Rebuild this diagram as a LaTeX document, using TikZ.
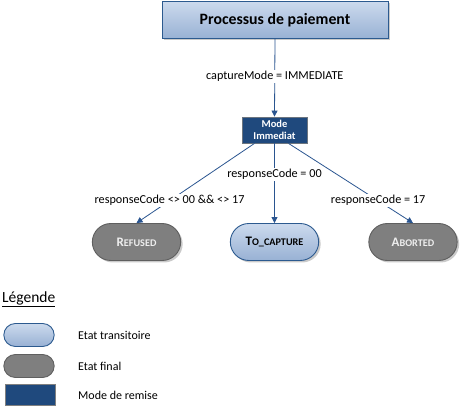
\documentclass[tikz,border=0pt]{standalone}
\usepackage{fontspec}
\setmainfont{Carlito}
\usetikzlibrary{shapes.misc,shadows,arrows.meta,calc}
\definecolor{edgeblue}{HTML}{2A5590}
\definecolor{darkfill}{HTML}{1F497D}
\definecolor{gtop}{HTML}{CCDAED}
\definecolor{gbot}{HTML}{98B1D4}
\definecolor{bborder}{HTML}{2C5A8F}
\definecolor{grayfill}{HTML}{7F7F7F}
\definecolor{grayborder}{HTML}{5F5F5F}
\definecolor{lighttext}{HTML}{EEEEEE}
\newcommand{\fsc}[2]{{\fontsize{13}{14}\selectfont #1}{\fontsize{10.2}{12}\selectfont #2}}
\tikzset{
  shd/.style={drop shadow={shadow xshift=2pt,shadow yshift=-2pt,fill=black!35,opacity=0.6}},
  procbox/.style={rectangle,draw=bborder,line width=0.9pt,top color=gtop,bottom color=gbot,
    minimum width=226pt,minimum height=37pt,font=\bfseries\fontsize{15.8}{18}\selectfont,shd},
  modebox/.style={rectangle,draw=gray!80!darkfill,line width=0.8pt,fill=darkfill,text=white,
    minimum width=65pt,minimum height=26pt,inner sep=1pt,align=center,
    font=\bfseries\fontsize{10.5}{11.5}\selectfont},
  transstate/.style={rounded rectangle,draw=bborder,line width=0.9pt,top color=gtop,bottom color=gbot,
    minimum width=95pt,minimum height=37pt,font=\bfseries,text=black,shd},
  finalstate/.style={rounded rectangle,draw=grayborder,line width=0.9pt,fill=grayfill,
    minimum width=95pt,minimum height=37pt,font=\bfseries,text=lighttext,shd},
  conn/.style={draw=edgeblue,line width=0.8pt,-{Triangle[length=6pt,width=6pt]}},
  elabel/.style={fill=white,inner sep=1.5pt,text=black,font=\fontsize{12.2}{14}\selectfont},
  legtext/.style={anchor=west,font=\fontsize{12}{14}\selectfont,inner sep=0pt}
}
\begin{document}
\begin{tikzpicture}[x=1pt,y=-1pt]
\useasboundingbox (0,0) rectangle (461,406);
\node[procbox] (proc) at (275,20) {Processus de paiement};
\node[modebox] (mode) at (274.5,130) {Mode\\Immediat};
\node[finalstate] (refused) at (136.5,242) {\fsc{R}{EFUSED}};
\node[transstate] (capture) at (274.5,242) {\fsc{T}{O\_CAPTURE}};
\node[finalstate] (aborted) at (413,242) {\fsc{A}{BORTED}};
\draw[conn] (proc.south) -- node[elabel,pos=0.48] {captureMode = IMMEDIATE} (mode.north);
\draw[conn] ($(mode.south)+(-20,0)$) -- node[elabel,pos=0.72] {responseCode <> 00 \&\& <> 17} (refused.north);
\draw[conn] (mode.south) -- node[elabel,pos=0.39] {responseCode = 00} (capture.north);
\draw[conn] ($(mode.south)+(14,0)$) -- node[elabel,pos=0.72] {responseCode = 17} (aborted.north);
% legend
\node[anchor=west,inner sep=0pt,font=\fontsize{15.5}{18}\selectfont] (leg) at (2,299) {\underline{Légende}};
\node[rounded rectangle,draw=bborder,line width=0.9pt,top color=gtop,bottom color=gbot,
  minimum width=57pt,minimum height=23pt] (l1) at (29,335) {};
\node[rounded rectangle,draw=grayborder,line width=0.9pt,fill=grayfill,
  minimum width=57pt,minimum height=23pt] (l2) at (29,366) {};
\node[rectangle,draw=gray,line width=0.8pt,fill=darkfill,minimum width=50pt,minimum height=21pt] (l3) at (30,395) {};
\node[legtext] (t1) at (78,335) {Etat transitoire};
\node[legtext] (t2) at (78,366) {Etat final};
\node[legtext] (t3) at (78,395) {Mode de remise};
\end{tikzpicture}
\end{document}
